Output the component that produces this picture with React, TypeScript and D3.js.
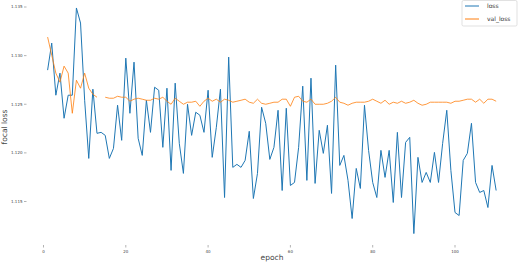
import React from 'react';
import { scaleLinear, line } from 'd3';

// training loss per epoch (epochs start at 1)
const loss = [
  1.12851, 1.13129, 1.12593, 1.1282, 1.12356, 1.12593, 1.12593, 1.1349, 1.13335, 1.12541,
  1.11943, 1.12655, 1.12201, 1.12211, 1.1218, 1.11943, 1.12046, 1.1249, 1.12129, 1.12974,
  1.12407, 1.12933, 1.1215, 1.11974, 1.12541, 1.12211, 1.12675, 1.12644, 1.12057, 1.12665,
  1.1182, 1.12717, 1.12098, 1.11789, 1.125, 1.1218, 1.12418, 1.12387, 1.12211, 1.12644,
  1.11954, 1.12263, 1.12655, 1.11541, 1.12985, 1.11851, 1.11882, 1.11851, 1.11923, 1.12222,
  1.11531, 1.11789, 1.12469, 1.12304, 1.11933, 1.12057, 1.12438, 1.11613, 1.12459, 1.11665,
  1.11696, 1.12057, 1.12686, 1.11717, 1.12768, 1.11686, 1.12232, 1.11995, 1.12284, 1.11583,
  1.12902, 1.11871, 1.11974, 1.11717, 1.11325, 1.1184, 1.11634, 1.1249, 1.12026, 1.11696,
  1.11541, 1.12026, 1.11748, 1.12026, 1.1149, 1.12211, 1.11541, 1.12108, 1.1216, 1.1117,
  1.11954, 1.11696, 1.11799, 1.11696, 1.12005, 1.11696, 1.12098, 1.12438, 1.1182, 1.11387,
  1.11356, 1.11923, 1.11995, 1.12304, 1.11696, 1.11593, 1.11613, 1.11438, 1.11871, 1.11613,
];

// validation loss per epoch, NaN where the run logged nothing
const valLoss = [
  1.13191, 1.13005, 1.1282, 1.12727, 1.12892, 1.1282, 1.12407, 1.12747, 1.12665, 1.1282,
  1.12665, 1.12603, 1.12572, NaN, 1.12572, 1.12562, 1.12562, 1.12582, 1.12572, 1.12572,
  1.12531, 1.12552, 1.12562, 1.12552, 1.12541, 1.12541, 1.12562, 1.12552, 1.12572, 1.12531,
  1.125, 1.12562, 1.12531, 1.125, 1.12521, 1.12521, 1.12531, 1.12479, 1.12531, 1.12562,
  1.12531, 1.12552, 1.12521, 1.12552, 1.12541, 1.12521, 1.12531, 1.12541, 1.12552, 1.12521,
  1.1251, 1.12552, 1.1251, 1.125, 1.1251, 1.12521, 1.12521, 1.12552, 1.12552, 1.12479,
  1.12572, 1.12582, 1.12531, 1.12521, 1.12552, 1.125, 1.125, 1.125, 1.1251, 1.12531,
  1.12572, 1.12521, 1.1251, 1.1249, 1.1251, 1.12521, 1.12521, 1.12521, 1.12531, 1.12552,
  1.12531, 1.1251, 1.12541, 1.125, 1.12521, 1.1251, 1.12531, 1.1251, 1.12521, 1.12541,
  1.1251, 1.1249, 1.125, 1.12521, 1.12521, 1.12521, 1.12521, 1.12521, 1.1251, 1.12531,
  1.12531, 1.12541, 1.12552, 1.12552, 1.12521, 1.12552, 1.1251, 1.12552, 1.12552, 1.12531,
];

const xTicks = [0, 20, 40, 60, 80, 100];
const yTicks = [1.115, 1.12, 1.125, 1.13, 1.135];

const W = 520;
const H = 262;
const FONT = 'DejaVu Sans, sans-serif';

const App = () => {
  const x = scaleLinear().domain([0, 100]).range([43.5, 455]);
  const y = scaleLinear().domain([1.115, 1.135]).range([201.5, 7]);

  const path = line<number>()
    .defined((d) => !isNaN(d))
    .x((_, i) => x(i + 1))
    .y((d) => y(d));

  return (
    <svg width={W} height={H} style={{ position: 'absolute', left: 0, top: 0, background: '#fff' }}>
      {/* y axis ticks */}
      {yTicks.map((t) => (
        <g key={t}>
          <line x1={24} x2={26.5} y1={y(t)} y2={y(t)} stroke="#666" strokeWidth={0.5} />
          <text x={22.5} y={y(t)} dy="0.35em" textAnchor="end" fontSize={4} fill="#444" fontFamily={FONT}>
            {t.toFixed(3)}
          </text>
        </g>
      ))}
      {/* x axis ticks */}
      {xTicks.map((t) => (
        <g key={t}>
          <line x1={x(t)} x2={x(t)} y1={245} y2={247.5} stroke="#666" strokeWidth={0.5} />
          <text x={x(t)} y={252.5} textAnchor="middle" fontSize={4} fill="#444" fontFamily={FONT}>
            {t}
          </text>
        </g>
      ))}
      <text x={272} y={260} textAnchor="middle" fontSize={7.5} fill="#444" fontFamily={FONT}>
        epoch
      </text>
      <text
        transform={`translate(6.5,127) rotate(-90)`}
        textAnchor="middle"
        fontSize={7.5}
        fill="#444"
        fontFamily={FONT}
      >
        focal loss
      </text>

      <path d={path(loss) || ''} fill="none" stroke="#1f77b4" strokeWidth={1} />
      <path d={path(valLoss) || ''} fill="none" stroke="#ff7f0e" strokeWidth={0.8} />

      {/* legend */}
      <g>
        <rect x={462} y={0.5} width={55} height={25.5} rx={1.5} fill="#fff" fillOpacity={0.8} stroke="#ccc" strokeWidth={0.6} />
        <line x1={465} x2={479} y1={6} y2={6} stroke="#1f77b4" strokeWidth={1} />
        <text x={487} y={6} dy="0.35em" fontSize={6} fill="#333" fontFamily={FONT}>
          loss
        </text>
        <line x1={465} x2={479} y1={19} y2={19} stroke="#ff7f0e" strokeWidth={1} />
        <text x={487} y={19} dy="0.35em" fontSize={6} fill="#333" fontFamily={FONT}>
          val_loss
        </text>
      </g>
    </svg>
  );
};

export default App;
